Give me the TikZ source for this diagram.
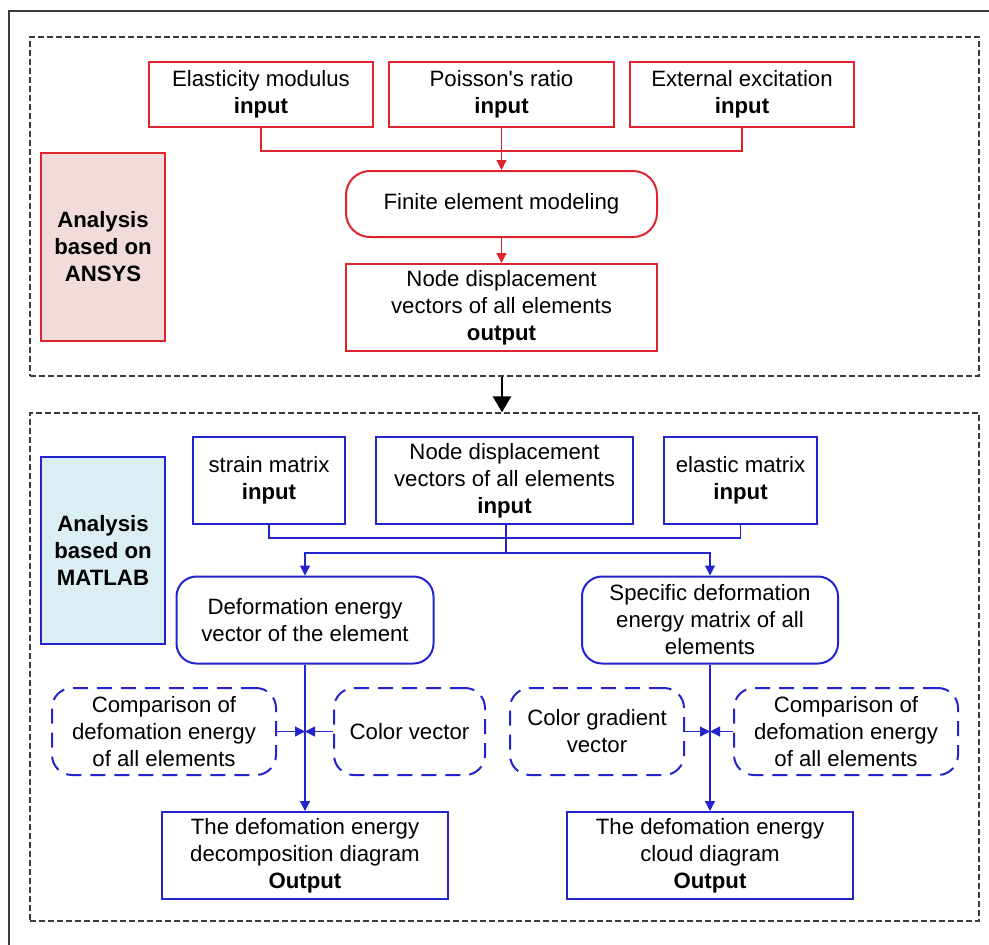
\documentclass[tikz,border=0pt]{standalone}
\usepackage{fontspec}
\setmainfont{Liberation Sans}
\usepackage{tikz}
\usetikzlibrary{positioning,arrows.meta}
\definecolor{boxred}{RGB}{222,36,46}
\definecolor{boxblue}{RGB}{36,36,206}
\definecolor{ansysfill}{RGB}{242,220,219}
\definecolor{matlabfill}{RGB}{218,238,243}
\definecolor{framegray}{RGB}{60,60,60}

\begin{document}
\begin{tikzpicture}[x=0.5pt, y=-0.5pt,
        every node/.style = {font=\fontsize{11.1}{13.5}\selectfont, align=center, inner sep=0pt},
        dashframe/.style = {draw=framegray, line width=0.7pt, dash pattern=on 3pt off 1.5pt, minimum width=474.5pt},
        redbox/.style = {draw=boxred, line width=1pt, minimum height=32.5pt},
        bluebox/.style = {draw=boxblue, line width=1pt, minimum height=43.5pt},
        dashbox/.style = {bluebox, dash pattern=on 7.5pt off 4.5pt, rounded corners=10pt},
        tagbox/.style = {line width=1pt, minimum width=62pt, font=\fontsize{11.1}{13.5}\selectfont\bfseries},
        redline/.style = {draw=boxred, line width=0.6pt},
        blueline/.style = {draw=boxblue, line width=0.6pt},
        arrowed/.style = {-{Triangle[length=5pt,width=5pt]}},
        bigarrow/.style = {draw=black, line width=1.4pt, -{Triangle[length=8pt,width=9pt]}}
        ]
        \useasboundingbox (0,0) rectangle (989,944);
        \fill[white] (0,0) rectangle (989,944);
        \draw[framegray, line width=1pt] (9,11) rectangle (1000,960);

        % the two dashed parts
        \node[dashframe, minimum height=169.5pt] (top) at (504.5,206.5) {};
        \node[dashframe, minimum height=254pt] (bot) at (504.5,667) {};
        \draw[bigarrow] (top.south -| 502,0) -- (bot.north -| 502,0);

        % ANSYS part
        \node[tagbox, draw=boxred, fill=ansysfill, minimum height=94pt] (ansys) at (103,247) {Analysis\\based on\\ANSYS};
        \node[redbox, minimum width=112pt] (elast) at (261,94.5) {Elasticity modulus\\\textbf{input}};
        \node[redbox, minimum width=112.5pt] (poisson) at (501.5,94.5) {Poisson\textquotesingle s ratio\\\textbf{input}};
        \node[redbox, minimum width=112pt] (excit) at (742,94.5) {External excitation\\\textbf{input}};
        \node[redbox, minimum width=155.5pt, minimum height=33pt, rounded corners=12pt] (fem) at (501.5,204) {Finite element modeling};
        \node[redbox, minimum width=155.5pt, minimum height=43.5pt] (nodeout) at (501.5,307.5) {Node displacement\\vectors of all elements\\\textbf{output}};
        \coordinate (rj) at (501.5,151);
        \draw[redline] (elast.south) -- (elast.south |- rj) -- (excit.south |- rj) -- (excit.south);
        \draw[redline, arrowed] (poisson.south) -- (fem.north);
        \draw[redline, arrowed] (fem.south) -- (nodeout.north);

        % MATLAB part
        \node[tagbox, draw=boxblue, fill=matlabfill, minimum height=93.5pt] (matlab) at (103,550.5) {Analysis\\based on\\MATLAB};
        \node[bluebox, minimum width=76pt] (strain) at (269,480.5) {strain matrix\\\textbf{input}};
        \node[bluebox, minimum width=128.5pt] (nodein) at (504.5,480.5) {Node displacement\\vectors of all elements\\\textbf{input}};
        \node[bluebox, minimum width=76.5pt] (elastic) at (740.5,480.5) {elastic matrix\\\textbf{input}};
        \node[bluebox, minimum width=128.5pt, rounded corners=10pt] (devec) at (305,620) {Deformation energy\\vector of the element};
        \node[bluebox, minimum width=128pt, rounded corners=10pt] (spec) at (710,620) {Specific deformation\\energy matrix of all\\elements};
        \node[dashbox, minimum width=112pt] (cmp1) at (164,731.5) {Comparison of\\defomation energy\\of all elements};
        \node[dashbox, minimum width=75.5pt] (colvec) at (409.5,731.5) {Color vector};
        \node[dashbox, minimum width=87pt] (colgrad) at (597,731.5) {Color gradient\\vector};
        \node[dashbox, minimum width=112pt] (cmp2) at (846,731.5) {Comparison of\\defomation energy\\of all elements};
        \node[bluebox, minimum width=143pt] (out1) at (305,855.5) {The defomation energy\\decomposition diagram\\\textbf{Output}};
        \node[bluebox, minimum width=143pt] (out2) at (710,855.5) {The defomation energy\\cloud diagram\\\textbf{Output}};

        \coordinate (bj1) at (506,538);
        \coordinate (bj2) at (506,553);
        \draw[blueline] (strain.south) -- (strain.south |- bj1) -- (elastic.south |- bj1) -- (elastic.south);
        \draw[blueline] (nodein.south -| bj2) -- (bj2);
        \draw[blueline, arrowed] (bj2) -| (devec.north);
        \draw[blueline, arrowed] (bj2) -| (spec.north);
        \draw[blueline, arrowed] (devec.south) -- (out1.north);
        \draw[blueline, arrowed] (spec.south) -- (out2.north);
        \coordinate (m1) at (devec.south |- cmp1.east);
        \coordinate (m2) at (spec.south |- cmp2.west);
        \draw[blueline, arrowed] (cmp1.east) -- (m1);
        \draw[blueline, arrowed] (colvec.west) -- (m1);
        \draw[blueline, arrowed] (colgrad.east) -- (m2);
        \draw[blueline, arrowed] (cmp2.west) -- (m2);
\end{tikzpicture}
\end{document}
